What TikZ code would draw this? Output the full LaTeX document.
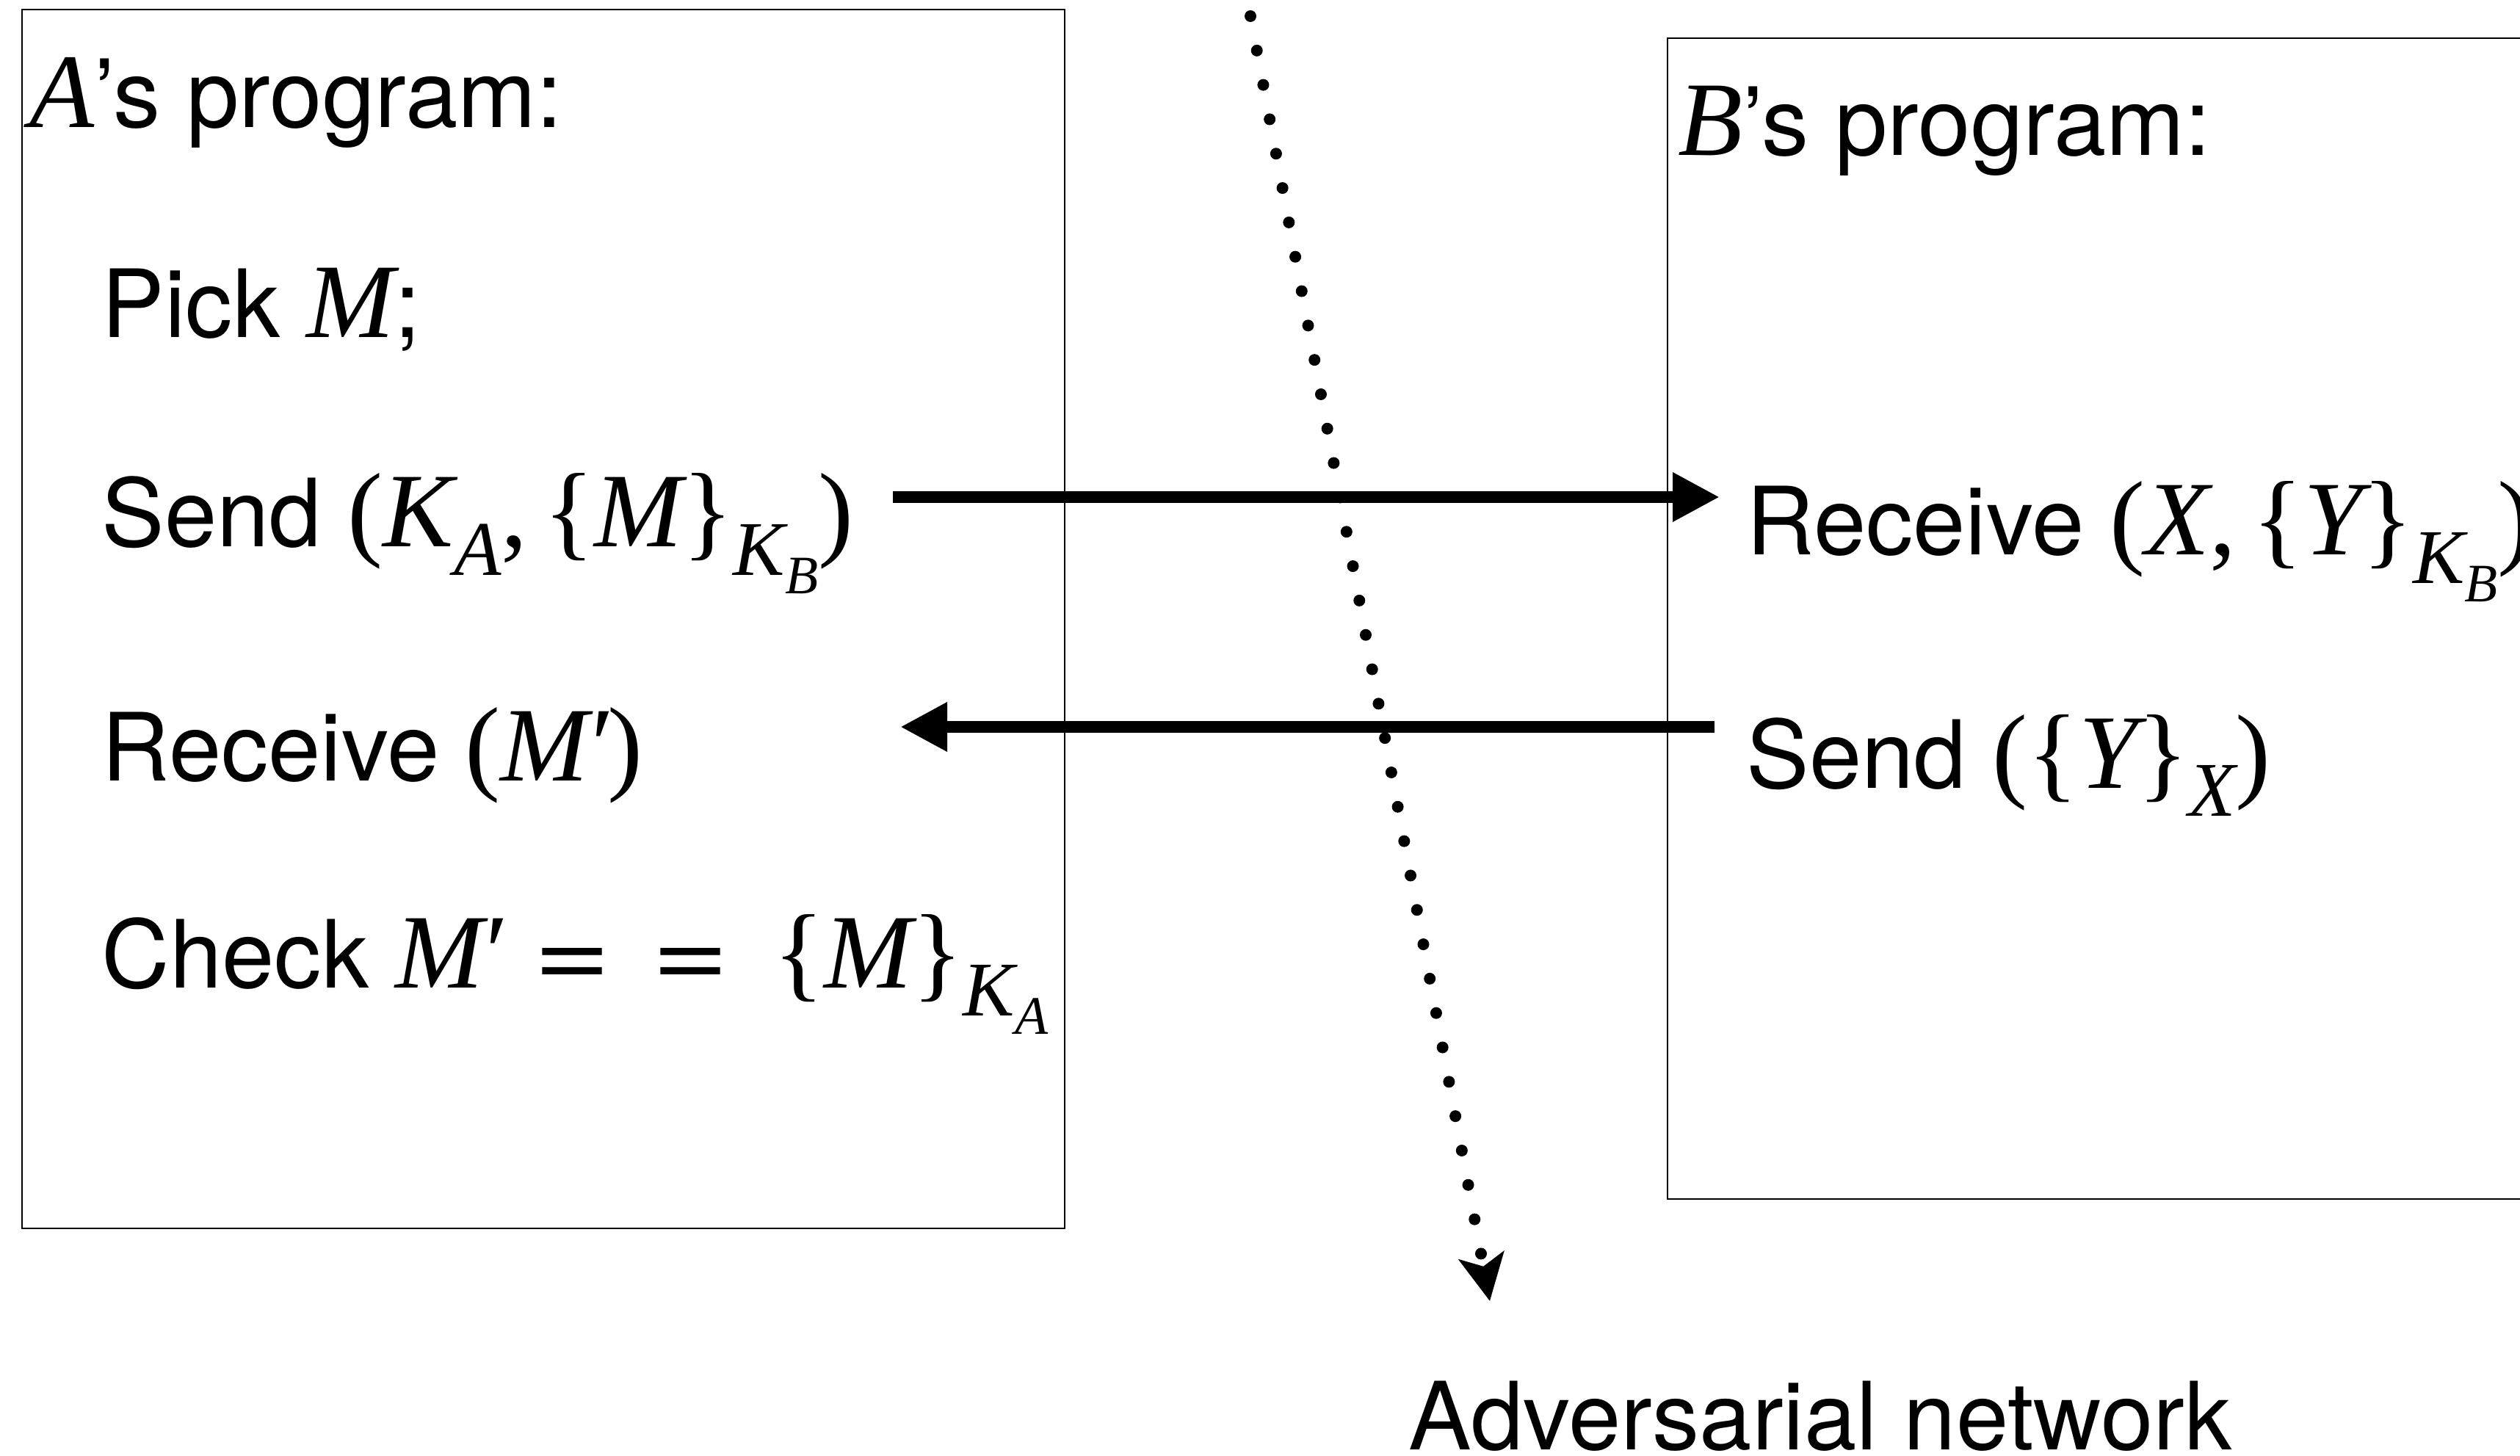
\documentclass[tikz,border=0pt]{standalone}
\usepackage{fontspec}
\usepackage{graphicx}
\setmainfont{TeX Gyre Heros}
\newfontfamily\tms{Liberation Serif}
\usetikzlibrary{arrows.meta}
\newcommand\mathsz{\fontsize{41}{41}\selectfont}
\newcommand\mi[1]{{\tms\itshape\mathsz #1}}
\newcommand\mr[1]{{\tms\mathsz #1}}
\newcommand\sbA[1]{\raisebox{-11pt}{\tms\itshape\fontsize{30}{30}\selectfont #1}}
\newcommand\ssb[1]{\raisebox{-7pt}{\tms\itshape\fontsize{21}{21}\selectfont #1}}
\newcommand\eqsign{{\mathsz\scalebox{1.26}[1]{=}}}
\newcommand\mprime{\kern-0.04em′}
\tikzset{
  txt/.style={anchor=base west, inner sep=0pt, font=\fontsize{36.5}{44}\selectfont},
  progbox/.style={draw=black, line width=0.8pt},
  msg/.style={line width=0.16cm, -{Triangle[length=0.64cm,width=0.63cm]}},
  adv/.style={line width=0.16cm, line cap=round, dash pattern=on 0pt off 13.55pt,
    -{Stealth[length=0.63cm,width=0.62cm,inset=0.15cm]}}
}
\begin{document}
\begin{tikzpicture}
\useasboundingbox (0,0) rectangle (34.32,19.82);
\clip (0,0) rectangle (34.32,19.82);
\fill[white] (0,0) rectangle (34.32,19.82);
% boxes
\draw[progbox] (0.30,19.69) rectangle (14.50,3.09);
\draw[progbox] (22.71,19.30) rectangle (35.2,3.49);
% A's program
\node[txt] (ahead) at (0.40,18.08) {\mi{A}’s program:};
\node[txt] (apick) at (1.38,15.22) {Pick \mi{M};};
\node[txt] (asend) at (1.38,12.37) {Send \mr{(}\mi{K}\sbA{A}\mr{,\hspace{0.22cm}\{}\mi{M}\mr{\}}\sbA{K\ssb{B}}\mr{)}};
\node[txt] (arecv) at (1.38,9.19) {Receive \mr{(}\mi{M\mprime}\mr{)}};
\node[txt] (acheck) at (1.38,6.37) {Check \mi{M\mprime}\hspace{0.42cm}\eqsign\hspace{0.55cm}\eqsign\hspace{0.6cm}\mr{\{}\mi{M}\mr{\}}\sbA{K\ssb{A}}};
% B's program
\node[txt] (bhead) at (22.85,17.70) {\mi{B}’s program:};
\node[txt] (brecv) at (23.78,12.26) {Receive \mr{(}\mi{X}\mr{,\hspace{0.22cm}\{}\mi{Y}\mr{\}}\sbA{K\ssb{B}}\mr{)}};
\node[txt] (bsend) at (23.78,9.09) {Send \mr{(\{}\mi{Y}\mr{\}}\sbA{X}\mr{)}};
% adversarial network
\node[txt] (net) at (19.18,0.08) {Adversarial network};
% message arrows
\coordinate (m1s) at (12.16,13.05);
\coordinate (m1e) at (23.42,13.05);
\coordinate (m2s) at (23.35,9.92);
\coordinate (m2e) at (12.26,9.92);
\draw[msg] (m1s) -- (m1e);
\draw[msg] (m2s) -- (m2e);
% adversary dotted arrow
\coordinate (d0) at (17.03,19.60);
\coordinate (d1) at (20.29,2.10);
\draw[adv] (d0) -- (d1);
\end{tikzpicture}
\end{document}
